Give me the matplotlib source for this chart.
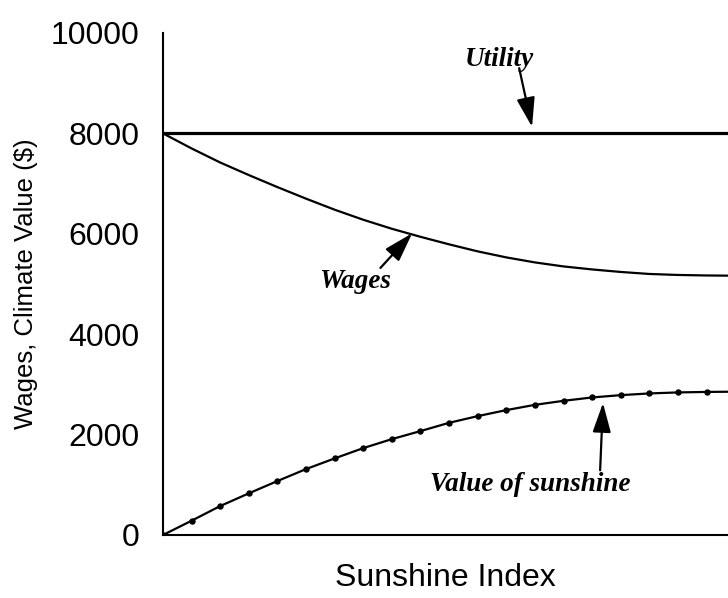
import matplotlib
matplotlib.use("Agg")
import matplotlib.pyplot as plt

# Data
sunshine_index = list(range(21))
value_of_sunshine = [0, 285, 577, 830, 1075, 1313, 1526, 1731, 1910, 2070,
                     2235, 2368, 2488, 2593, 2673, 2740, 2786, 2820, 2840, 2850, 2855]
wages = [8000, 7700, 7420, 7170, 6930, 6700, 6480, 6280, 6100, 5940,
         5790, 5650, 5530, 5430, 5350, 5290, 5240, 5200, 5180, 5170, 5165]
utility = [8000] * 21
y_ticks = [0, 2000, 4000, 6000, 8000, 10000]

sans = "Liberation Sans"
serif = "Liberation Serif"

fig = plt.figure(figsize=(7.28, 5.98), dpi=100)
ax = fig.add_axes([163 / 728, 1 - 535 / 598, 1 - 163 / 728, (535 - 33) / 598])

ax.plot(sunshine_index, utility, color="black", lw=2.3, clip_on=True)
ax.plot(sunshine_index, wages, color="black", lw=1.6, clip_on=True)
ax.plot(sunshine_index, value_of_sunshine, color="black", lw=1.6,
        marker="o", markersize=3.6, clip_on=True)

ax.set_xlim(0, 19.75)
ax.set_ylim(0, 10000)
ax.set_yticks(y_ticks)
ax.set_yticklabels([str(v) for v in y_ticks], fontsize=23, family=sans)
ax.set_xticks([])
ax.tick_params(axis="y", length=0, pad=17)

for s in ["top", "right"]:
    ax.spines[s].set_visible(False)
for s in ["left", "bottom"]:
    ax.spines[s].set_linewidth(1.5)

ax.set_xlabel("Sunshine Index", fontsize=23, family=sans, labelpad=20)
ax.set_ylabel("Wages, Climate Value ($)", fontsize=18.5, family=sans)
ax.yaxis.set_label_coords(-0.222, 0.5)

arrow = dict(arrowstyle="-|>,head_length=0.9,head_width=0.28", color="black",
             lw=1.6, shrinkA=0, shrinkB=0, mutation_scale=20)

ax.annotate("", xy=(12.9, 8130), xytext=(12.45, 9300), arrowprops=arrow)
ax.text(11.75, 9480, "Utility", fontsize=19.5, family=serif, style="italic",
        weight="bold", ha="center", va="center")

ax.annotate("", xy=(8.71, 6010), xytext=(7.6, 5320), arrowprops=arrow)
ax.text(6.73, 5050, "Wages", fontsize=19.5, family=serif, style="italic",
        weight="bold", ha="center", va="center")

ax.annotate("", xy=(15.38, 2630), xytext=(15.28, 1290), arrowprops=arrow)
ax.text(12.83, 1000, "Value of sunshine", fontsize=19.5, family=serif, style="italic",
        weight="bold", ha="center", va="center")

fig.savefig("out.png", dpi=100)
